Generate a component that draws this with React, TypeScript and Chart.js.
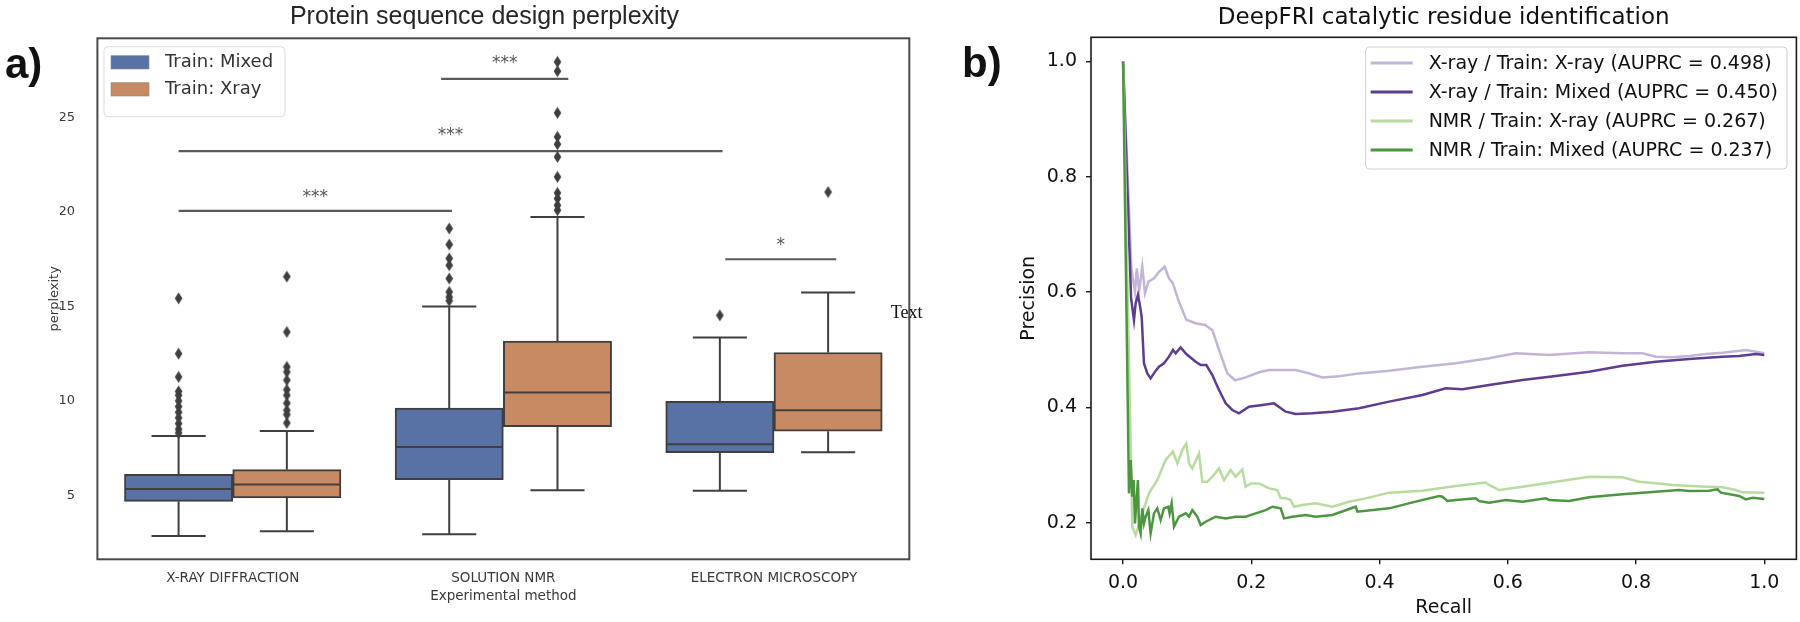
import React, { useEffect, useRef } from 'react';
import { Chart, registerables } from 'chart.js';

Chart.register(...registerables);

// ---------------- Panel a) data ----------------
const methods = ['X-RAY DIFFRACTION', 'SOLUTION NMR', 'ELECTRON MICROSCOPY'];
const methodPositions = [0, 1, 2];
const seriesNames = ['Train: Mixed', 'Train: Xray'];
const seriesOffsets = [-0.2, 0.2];
const yTicksLeft = [5, 10, 15, 20, 25];

const mixedLo = [2.85, 2.93, 5.24];
const mixedQ1 = [4.68, 5.83, 7.26];
const mixedMed = [5.33, 7.56, 7.7];
const mixedQ3 = [6.11, 9.62, 9.97];
const mixedHi = [8.14, 15.0, 13.35];

const xrayLo = [3.09, 5.26, 7.28];
const xrayQ1 = [4.86, 8.64, 8.39];
const xrayMed = [5.57, 10.44, 9.5];
const xrayQ3 = [6.36, 13.16, 12.56];
const xrayHi = [8.41, 19.74, 15.74];

const mixedOutliers = [
  [15.43, 12.5, 11.27, 10.5, 10.3, 10.0, 9.7, 9.4, 9.1, 8.8, 8.5, 8.3],
  [19.13, 18.28, 17.54, 17.18, 16.48, 15.77, 15.5, 15.3],
  [14.53],
];
const xrayOutliers = [
  [16.58, 13.65, 11.8, 11.53, 11.1, 10.59, 10.3, 9.88, 9.5, 9.27, 8.83],
  [27.95, 27.46, 25.25, 23.98, 23.59, 22.92, 21.86, 21.01, 20.71, 20.36, 20.1],
  [21.06],
];

// significance brackets (x in category units, y in perplexity)
const sigX0 = [-0.2, -0.2, 0.77, 1.82];
const sigX1 = [0.81, 1.81, 1.24, 2.23];
const sigY = [20.06, 23.22, 27.05, 17.5];
const sigText = ['***', '***', '***', '*'];
const sigTextY = [21.06, 24.33, 28.18, 18.54];

const noteText = 'Text';
const noteX = 2.49;
const noteY = 14.66;

// ---------------- Panel b) data ----------------
const xTicksRight = [0, 0.2, 0.4, 0.6, 0.8, 1.0];
const prLabels = [
  'X-ray / Train: X-ray (AUPRC = 0.498)',
  'X-ray / Train: Mixed (AUPRC = 0.450)',
  'NMR / Train: X-ray (AUPRC = 0.267)',
  'NMR / Train: Mixed (AUPRC = 0.237)',
];

const xrXrRecall = [0, 0.013, 0.0186, 0.0215, 0.025, 0.03, 0.0342, 0.0394, 0.0482, 0.056, 0.0648, 0.0716, 0.0778, 0.0862, 0.0986, 0.1132, 0.1278, 0.1392, 0.1496, 0.1626, 0.1746, 0.1912, 0.212, 0.2276, 0.2692, 0.29, 0.3108, 0.3368, 0.368, 0.4148, 0.4668, 0.5188, 0.5708, 0.6124, 0.6644, 0.7268, 0.7788, 0.81, 0.8308, 0.8568, 0.8828, 0.9088, 0.9348, 0.9712, 0.9868, 1.0];
const xrXrPrecision = [1.0, 0.64, 0.6, 0.641, 0.601, 0.644, 0.598, 0.618, 0.624, 0.635, 0.644, 0.624, 0.615, 0.586, 0.552, 0.546, 0.543, 0.534, 0.5, 0.459, 0.447, 0.452, 0.461, 0.465, 0.465, 0.459, 0.452, 0.454, 0.459, 0.4637, 0.4707, 0.4765, 0.4852, 0.4938, 0.4909, 0.4955, 0.4938, 0.4938, 0.488, 0.487, 0.489, 0.4926, 0.4949, 0.4996, 0.4967, 0.494];

const xrMxRecall = [0, 0.0125, 0.017, 0.0196, 0.0232, 0.0258, 0.029, 0.0326, 0.0378, 0.043, 0.0498, 0.056, 0.0638, 0.0716, 0.0778, 0.082, 0.0898, 0.0986, 0.1132, 0.121, 0.1298, 0.1392, 0.1496, 0.16, 0.1704, 0.1808, 0.1964, 0.2172, 0.2354, 0.2536, 0.2692, 0.2952, 0.3264, 0.368, 0.4148, 0.4668, 0.5032, 0.5292, 0.5708, 0.6228, 0.6748, 0.7268, 0.7788, 0.8308, 0.8828, 0.9348, 0.9608, 0.9868, 1.0];
const xrMxPrecision = [1.0, 0.59, 0.5516, 0.5805, 0.595, 0.5805, 0.5574, 0.4764, 0.459, 0.4504, 0.462, 0.4706, 0.4764, 0.488, 0.4995, 0.4937, 0.5042, 0.4926, 0.4793, 0.4735, 0.4735, 0.4562, 0.4302, 0.407, 0.3955, 0.3897, 0.4013, 0.4042, 0.407, 0.3926, 0.3886, 0.3897, 0.3926, 0.3984, 0.41, 0.4215, 0.4331, 0.4313, 0.4389, 0.4475, 0.4545, 0.462, 0.4724, 0.4793, 0.484, 0.488, 0.4891, 0.4926, 0.4909];

const nmrXrRecall = [0, 0.0144, 0.0196, 0.03, 0.0404, 0.0534, 0.0664, 0.0778, 0.0846, 0.0924, 0.0986, 0.1028, 0.108, 0.1184, 0.1236, 0.1314, 0.1392, 0.1496, 0.1574, 0.1678, 0.1756, 0.186, 0.1912, 0.199, 0.212, 0.2276, 0.2406, 0.2458, 0.2536, 0.2614, 0.2666, 0.2796, 0.3004, 0.3264, 0.3524, 0.3784, 0.4148, 0.4668, 0.5188, 0.5656, 0.5708, 0.5864, 0.6228, 0.6748, 0.7268, 0.7788, 0.8048, 0.8308, 0.8568, 0.9088, 0.9348, 0.9556, 0.966, 1.0];
const nmrXrPrecision = [1.0, 0.1931, 0.1786, 0.2162, 0.2509, 0.274, 0.3087, 0.3232, 0.3029, 0.3261, 0.3376, 0.3029, 0.2942, 0.3203, 0.2711, 0.2711, 0.2798, 0.2942, 0.274, 0.2914, 0.2798, 0.2925, 0.2624, 0.2682, 0.2682, 0.2595, 0.2566, 0.2422, 0.2422, 0.2393, 0.2277, 0.2306, 0.2335, 0.2277, 0.2364, 0.2422, 0.2521, 0.2556, 0.2637, 0.2695, 0.2654, 0.2567, 0.2625, 0.2712, 0.2798, 0.2787, 0.2712, 0.2683, 0.2654, 0.2625, 0.2614, 0.2567, 0.2527, 0.2521];

const nmrMxRecall = [0, 0.0092, 0.0118, 0.0144, 0.0165, 0.0186, 0.0206, 0.0232, 0.0248, 0.0274, 0.03, 0.0326, 0.0352, 0.0394, 0.043, 0.0482, 0.0534, 0.0586, 0.0638, 0.0706, 0.0726, 0.0758, 0.0794, 0.0872, 0.0976, 0.1028, 0.108, 0.1158, 0.121, 0.1288, 0.1444, 0.16, 0.1756, 0.1912, 0.2068, 0.2224, 0.2328, 0.2458, 0.251, 0.264, 0.2848, 0.3004, 0.3264, 0.3628, 0.3654, 0.4148, 0.4564, 0.4928, 0.498, 0.5058, 0.5188, 0.55, 0.5552, 0.5708, 0.5968, 0.6228, 0.6592, 0.6644, 0.6956, 0.7268, 0.7788, 0.8308, 0.8672, 0.8828, 0.914, 0.927, 0.9322, 0.9608, 0.9712, 0.9816, 1.0];
const nmrMxPrecision = [1.0, 0.2509, 0.3087, 0.2451, 0.274, 0.1988, 0.2335, 0.274, 0.1931, 0.1815, 0.2248, 0.1988, 0.2104, 0.2219, 0.1815, 0.2162, 0.2248, 0.2046, 0.2248, 0.2277, 0.2162, 0.2335, 0.1931, 0.2104, 0.2162, 0.2104, 0.2219, 0.2104, 0.196, 0.2017, 0.2104, 0.2075, 0.2104, 0.2104, 0.2162, 0.2219, 0.2277, 0.2248, 0.2075, 0.2104, 0.2133, 0.2104, 0.2133, 0.2277, 0.219, 0.2249, 0.2365, 0.2463, 0.2451, 0.2376, 0.2394, 0.2423, 0.2376, 0.2347, 0.2394, 0.2365, 0.2423, 0.2394, 0.2376, 0.244, 0.2492, 0.2538, 0.2567, 0.255, 0.2556, 0.2579, 0.2521, 0.2463, 0.2405, 0.2434, 0.2411];

// ---------------- styles ----------------
const boxColors = ['#5972a5', '#c78a63'];
const boxLine = '#3f3f3f';
const prColors = ['#c3b5d8', '#5e3c92', '#b8db9f', '#4d9641'];
const leftText = '#3a3a3a';
const rightText = '#111111';
const sansLeft = '"DejaVu Sans", sans-serif';
const sansRight = '"DejaVu Sans", sans-serif';

function makeDiamond(): HTMLCanvasElement {
  const c = document.createElement('canvas');
  c.width = 9;
  c.height = 13;
  const g = c.getContext('2d')!;
  g.fillStyle = boxLine;
  g.beginPath();
  g.moveTo(4.5, 0.5);
  g.lineTo(8.3, 6.5);
  g.lineTo(4.5, 12.5);
  g.lineTo(0.7, 6.5);
  g.closePath();
  g.fill();
  return c;
}

const boxPlugin = {
  id: 'boxWhiskers',
  afterDatasetsDraw(chart: any) {
    const ctx = chart.ctx;
    const ys = chart.scales.y;
    const stats = [
      { lo: mixedLo, med: mixedMed, hi: mixedHi, q1: mixedQ1, q3: mixedQ3 },
      { lo: xrayLo, med: xrayMed, hi: xrayHi, q1: xrayQ1, q3: xrayQ3 },
    ];
    ctx.save();
    ctx.strokeStyle = boxLine;
    ctx.lineWidth = 2;
    const seg = (x0: number, y0: number, x1: number, y1: number) => {
      ctx.beginPath();
      ctx.moveTo(x0, y0);
      ctx.lineTo(x1, y1);
      ctx.stroke();
    };
    stats.forEach((s, d) => {
      const meta = chart.getDatasetMeta(d);
      meta.data.forEach((el: any, i: number) => {
        const { x, width } = el.getProps(['x', 'width'], true);
        const h = width / 2;
        const pm = ys.getPixelForValue(s.med[i]);
        seg(x - h + 1, pm, x + h - 1, pm);
        const pq3 = ys.getPixelForValue(s.q3[i]);
        const phi = ys.getPixelForValue(s.hi[i]);
        seg(x, pq3, x, phi);
        seg(x - h / 2, phi, x + h / 2, phi);
        const pq1 = ys.getPixelForValue(s.q1[i]);
        const plo = ys.getPixelForValue(s.lo[i]);
        seg(x, pq1, x, plo);
        seg(x - h / 2, plo, x + h / 2, plo);
      });
    });
    ctx.restore();
  },
};

const leftExtras = {
  id: 'leftExtras',
  afterDraw(chart: any) {
    const { ctx, chartArea: a } = chart;
    const xs = chart.scales.x;
    const ys = chart.scales.y;
    ctx.save();
    // frame
    ctx.strokeStyle = '#4a4a4a';
    ctx.lineWidth = 2;
    ctx.strokeRect(a.left, a.top, a.right - a.left, a.bottom - a.top);
    // significance stars
    ctx.fillStyle = '#555';
    ctx.font = '17px ' + sansLeft;
    ctx.textAlign = 'center';
    ctx.textBaseline = 'alphabetic';
    sigText.forEach((t, i) => {
      const cx = xs.getPixelForValue((sigX0[i] + sigX1[i]) / 2);
      ctx.fillText(t, cx, ys.getPixelForValue(sigTextY[i]) + 10);
    });
    // note
    ctx.fillStyle = '#111';
    ctx.font = '18px "Liberation Serif", "DejaVu Serif", serif';
    ctx.textBaseline = 'middle';
    ctx.fillText(noteText, xs.getPixelForValue(noteX), ys.getPixelForValue(noteY));
    // legend
    const lx = a.left + 6.6;
    const ly = a.top + 8.4;
    const lw = 181;
    const lh = 70;
    ctx.fillStyle = 'rgba(255,255,255,0.85)';
    ctx.strokeStyle = '#dddddd';
    ctx.lineWidth = 1;
    ctx.beginPath();
    ctx.roundRect(lx, ly, lw, lh, 4);
    ctx.fill();
    ctx.stroke();
    ctx.font = '18px ' + sansLeft;
    ctx.textAlign = 'left';
    ctx.textBaseline = 'middle';
    [0, 1].forEach((d) => {
      const ds = chart.data.datasets[d];
      const ry = ly + 15.6 + d * 27;
      ctx.fillStyle = ds.backgroundColor;
      ctx.fillRect(lx + 7, ry - 6.6, 38, 13.3);
      ctx.strokeStyle = '#8a8a8a';
      ctx.lineWidth = 0.6;
      ctx.strokeRect(lx + 7, ry - 6.6, 38, 13.3);
      ctx.fillStyle = '#333';
      ctx.fillText(ds.label, lx + 61, ry + 0.5);
    });
    ctx.restore();
  },
};

const rightExtras = {
  id: 'rightExtras',
  afterDraw(chart: any) {
    const { ctx, chartArea: a } = chart;
    ctx.save();
    ctx.strokeStyle = '#1a1a1a';
    ctx.lineWidth = 1.6;
    ctx.strokeRect(a.left, a.top, a.right - a.left, a.bottom - a.top);
    // legend
    ctx.font = '19px ' + sansRight;
    const dsets = chart.data.datasets;
    let maxW = 0;
    dsets.forEach((ds: any) => {
      maxW = Math.max(maxW, ctx.measureText(ds.label).width);
    });
    const lw = 5 + 42 + 16 + maxW + 9;
    const right = a.right - 9.4;
    const lx = right - lw;
    const ly = a.top + 9.7;
    const lh = 122;
    ctx.fillStyle = 'rgba(255,255,255,0.85)';
    ctx.strokeStyle = '#d0d0d0';
    ctx.lineWidth = 1;
    ctx.beginPath();
    ctx.roundRect(lx, ly, lw, lh, 4);
    ctx.fill();
    ctx.stroke();
    ctx.textAlign = 'left';
    ctx.textBaseline = 'middle';
    dsets.forEach((ds: any, i: number) => {
      const ry = ly + 16 + i * 29;
      ctx.strokeStyle = ds.borderColor;
      ctx.lineWidth = 3;
      ctx.beginPath();
      ctx.moveTo(lx + 5, ry);
      ctx.lineTo(lx + 47, ry);
      ctx.stroke();
      ctx.fillStyle = rightText;
      ctx.fillText(ds.label, lx + 63, ry + 1);
    });
    ctx.restore();
  },
};

function LeftPanel() {
  const ref = useRef<HTMLCanvasElement>(null);
  useEffect(() => {
    const diamond = makeDiamond();
    const outlierData = (arr: number[][], off: number) =>
      arr.flatMap((vals, i) => vals.map((v) => ({ x: methodPositions[i] + off, y: v })));
    const boxSet = (k: number, q1: number[], q3: number[]) => ({
      type: 'bar',
      label: seriesNames[k],
      data: q1.map((q, i) => ({ x: methodPositions[i] + seriesOffsets[k], y: [q, q3[i]] })),
      backgroundColor: boxColors[k],
      borderColor: boxLine,
      borderWidth: 2,
      borderSkipped: false,
      grouped: false,
      categoryPercentage: 1.0,
      barPercentage: 1.0,
      order: 3,
    });
    const datasets: any[] = [
      boxSet(0, mixedQ1, mixedQ3),
      boxSet(1, xrayQ1, xrayQ3),
      {
        type: 'line',
        label: 'mixed outliers',
        data: outlierData(mixedOutliers, seriesOffsets[0]),
        showLine: false,
        pointStyle: diamond,
        pointRadius: 4,
        order: 1,
      },
      {
        type: 'line',
        label: 'xray outliers',
        data: outlierData(xrayOutliers, seriesOffsets[1]),
        showLine: false,
        pointStyle: diamond,
        pointRadius: 4,
        order: 1,
      },
      ...sigX0.map((x0, i) => ({
        type: 'line',
        label: 'sig' + i,
        data: [
          { x: x0, y: sigY[i] },
          { x: sigX1[i], y: sigY[i] },
        ],
        borderColor: '#5a5a5a',
        borderWidth: 2.2,
        pointRadius: 0,
        order: 2,
      })),
    ];
    const chart = new Chart(ref.current!, {
      type: 'bar',
      data: { datasets },
      options: {
        animation: false,
        responsive: false,
        devicePixelRatio: 1,
        layout: { padding: { left: 59.7, right: 50.7, top: 0, bottom: 0 } },
        plugins: {
          legend: { display: false },
          tooltip: { enabled: false },
          title: {
            display: true,
            text: 'Protein sequence design perplexity',
            fullSize: true,
            color: '#262626',
            font: { family: '"Liberation Sans", Arial, sans-serif', size: 25, weight: 'normal' },
            padding: { top: 2.5, bottom: 5.8 },
          },
        },
        scales: {
          x: {
            type: 'linear',
            min: -0.5,
            max: 2.5,
            offset: false,
            grid: { display: false, offset: false },
            border: { display: false },
            afterBuildTicks: (s: any) => {
              s.ticks = methodPositions.map((v) => ({ value: v }));
            },
            ticks: {
              autoSkip: false,
              maxRotation: 0,
              color: leftText,
              font: { family: sansLeft, size: 13.5 },
              padding: 3,
              callback: (v: any) => {
                const i = methodPositions.indexOf(Math.round(v));
                return i >= 0 ? methods[i] : '';
              },
            },
            title: {
              display: true,
              text: 'Experimental method',
              color: leftText,
              font: { family: sansLeft, size: 13.5 },
              padding: { top: 0, bottom: 17 },
            },
            afterFit: (s: any) => {
              s.height = 62.7;
            },
          },
          y: {
            type: 'linear',
            min: 1.61,
            max: 29.2,
            grid: { display: false },
            border: { display: false },
            ticks: {
              stepSize: 5,
              includeBounds: false,
              color: leftText,
              font: { family: sansLeft, size: 13 },
              padding: 14.4,
              callback: (v: any) => (yTicksLeft.includes(Math.round(v)) ? String(Math.round(v)) : ''),
            },
            title: {
              display: true,
              text: 'perplexity',
              color: leftText,
              font: { family: sansLeft, size: 13 },
              padding: { top: -12.5, bottom: 0 },
            },
            afterFit: (s: any) => {
              s.width = 37.7;
            },
          },
        },
      } as any,
      plugins: [boxPlugin, leftExtras],
    });
    return () => chart.destroy();
  }, []);
  return <canvas ref={ref} width={960} height={622} style={{ width: 960, height: 622, display: 'block' }} />;
}

function RightPanel() {
  const ref = useRef<HTMLCanvasElement>(null);
  useEffect(() => {
    const series = [
      [xrXrRecall, xrXrPrecision],
      [xrMxRecall, xrMxPrecision],
      [nmrXrRecall, nmrXrPrecision],
      [nmrMxRecall, nmrMxPrecision],
    ];
    const datasets: any[] = series.map(([r, p], k) => ({
      type: 'line',
      label: prLabels[k],
      data: r.map((x, i) => ({ x, y: p[i] })),
      borderColor: prColors[k],
      backgroundColor: prColors[k],
      borderWidth: 2.5,
      pointRadius: 0,
      tension: 0,
      fill: false,
      order: 4 - k,
    }));
    const tickFont = { family: sansRight, size: 19 };
    const chart = new Chart(ref.current!, {
      type: 'line',
      data: { datasets },
      options: {
        animation: false,
        responsive: false,
        devicePixelRatio: 1,
        layout: { padding: { left: 0, right: 3.6, top: 0, bottom: 0 } },
        plugins: {
          legend: { display: false },
          tooltip: { enabled: false },
          title: {
            display: true,
            text: 'DeepFRI catalytic residue identification',
            fullSize: false,
            color: rightText,
            font: { family: sansRight, size: 23, weight: 'normal' },
            padding: { top: 4.2, bottom: 5.5 },
          },
        },
        scales: {
          x: {
            type: 'linear',
            min: -0.05,
            max: 1.05,
            grid: { display: true, drawOnChartArea: false, drawTicks: true, tickLength: 5, color: '#1a1a1a', lineWidth: 1.4 },
            border: { display: false },
            ticks: {
              stepSize: 0.2,
              includeBounds: false,
              color: rightText,
              font: tickFont,
              padding: 7,
              callback: (v: any) => {
                const m = xTicksRight.find((t) => Math.abs(t - v) < 1e-6);
                return m === undefined ? '' : m.toFixed(1);
              },
            },
            title: {
              display: true,
              text: 'Recall',
              color: rightText,
              font: tickFont,
              padding: { top: 0, bottom: 2.3 },
            },
            afterFit: (s: any) => {
              s.height = 62.7;
            },
          },
          y: {
            type: 'linear',
            min: 0.1365,
            max: 1.042,
            grid: { display: true, drawOnChartArea: false, drawTicks: true, tickLength: 5, color: '#1a1a1a', lineWidth: 1.4 },
            border: { display: false },
            ticks: {
              stepSize: 0.2,
              includeBounds: false,
              color: rightText,
              font: tickFont,
              padding: 9,
              callback: (v: any) => Number(v).toFixed(1),
            },
            title: {
              display: true,
              text: 'Precision',
              color: rightText,
              font: tickFont,
              padding: { top: 57.6, bottom: 0 },
            },
            afterFit: (s: any) => {
              s.width = 131;
            },
          },
        },
      } as any,
      plugins: [rightExtras],
    });
    return () => chart.destroy();
  }, []);
  return <canvas ref={ref} width={840} height={622} style={{ width: 840, height: 622, display: 'block' }} />;
}

const panelLetter: React.CSSProperties = {
  position: 'absolute',
  fontFamily: '"Liberation Sans", Arial, sans-serif',
  fontWeight: 'bold',
  fontSize: 42,
  lineHeight: '42px',
  color: '#111',
  margin: 0,
};

export default function App() {
  return (
    <div style={{ position: 'absolute', left: 0, top: 0, width: 1800, height: 622, background: '#fff', overflow: 'hidden' }}>
      <div style={{ position: 'absolute', left: 0, top: 0 }}>
        <LeftPanel />
      </div>
      <div style={{ position: 'absolute', left: 960, top: 0 }}>
        <RightPanel />
      </div>
      <div style={{ ...panelLetter, left: 5, top: 43 }}>a)</div>
      <div style={{ ...panelLetter, left: 962, top: 42 }}>b)</div>
    </div>
  );
}
